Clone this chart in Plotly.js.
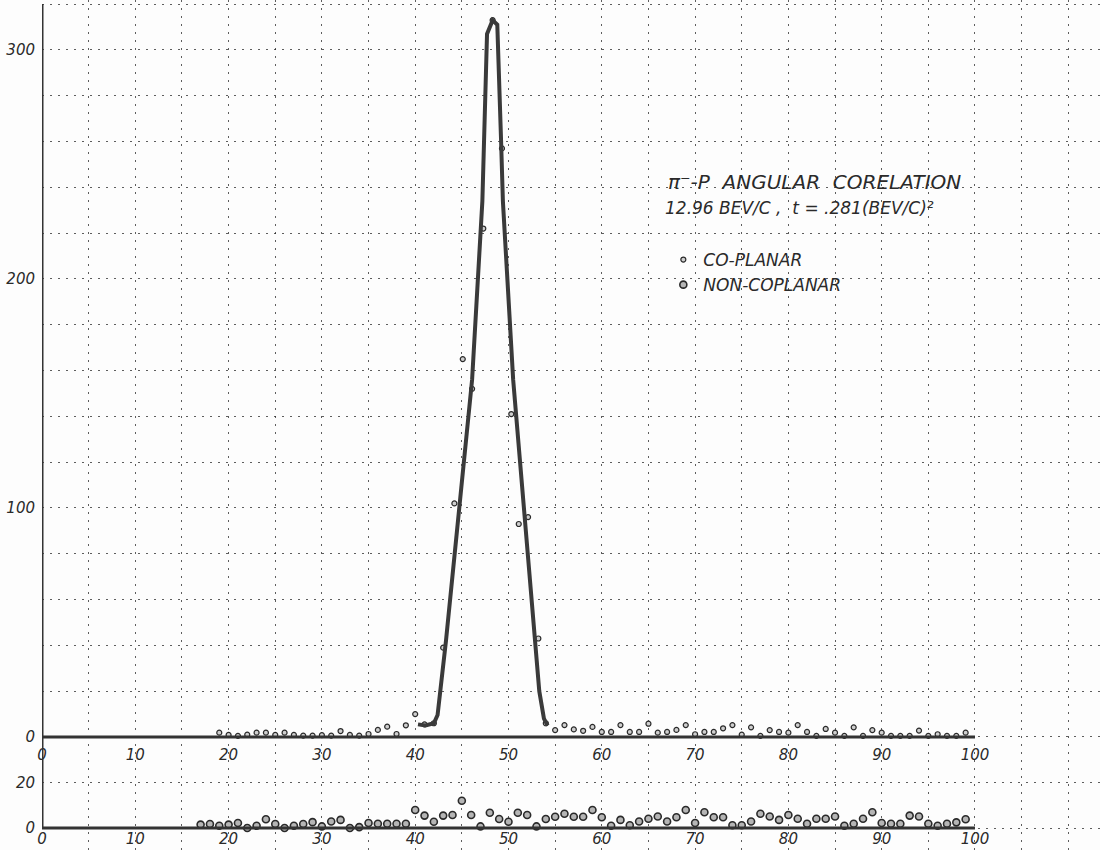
<!DOCTYPE html>
<html>
<head>
<meta charset="utf-8">
<script src="https://cdn.plot.ly/plotly-3.0.1.min.js"></script>
<style>
html,body{margin:0;padding:0;background:#fdfdfd;}
#chart{width:1100px;height:850px;}
</style>
</head>
<body>
<div id="chart"></div>
<script>
// ---- data ----
// upper panel: co-planar counts
const coplanarX = [19,20,21,22,23,24,25,26,27,28,29,30,31,32,33,34,35,36,37,38,39,40,41,42,43,44.2,45.1,46.1,47.3,48.3,49.3,50.3,51.1,52.1,53.2,54,55,56,57,58,59,60,61,62,63,64,65,66,67,68,69,70,71,72,73,74,75,76,77,78,79,80,81,82,83,84,85,86,87,88,89,90,91,92,93,94,95,96,97,98,99];
const coplanarY = [1.9,0.9,0.5,1.0,1.9,1.9,0.9,1.9,0.9,0.6,0.6,0.8,0.6,2.6,0.9,0.6,1.3,3.1,4.5,1.3,5.1,10,5.5,6,39,102,165,152,222,313,257,141,93,96,43,6,3,5.2,3.3,2.7,4.4,2.2,2.2,5.2,2.2,2.2,5.8,1.9,2.2,3.1,5.2,1.2,2.2,2.2,3.8,5.2,1.0,4.2,0.5,3.0,2.2,1.9,5.2,2.2,0.5,3.5,1.9,0.5,4.2,0.5,3.0,1.9,0.5,0.5,0.5,2.8,0.5,1.2,0.5,0.5,1.9];
// hand-drawn curve through the peak
const curveX = [40.3,41.1,42.0,42.4,43.3,46.1,47.2,47.7,48.3,48.8,49.2,49.4,50.5,52.8,53.3,53.8,54.2];
const curveY = [5.5,5.0,6.0,9.6,42,156,234,307,313,311,261,234,156,42,20,8,5];
// lower panel: non-coplanar counts
const noncoplanarX = [17,18,19,20,21,22,23,24,25,26,27,28,29,30,31,32,33,34,35,36,37,38,39,40,41,42,43,44,45,46,47,48,49,50,51,52,53,54,55,56,57,58,59,60,61,62,63,64,65,66,67,68,69,70,71,72,73,74,75,76,77,78,79,80,81,82,83,84,85,86,87,88,89,90,91,92,93,94,95,96,97,98,99];
const noncoplanarY = [1.5,1.8,1.0,1.5,2.2,0,1.0,3.9,1.8,0,1.0,1.8,2.6,0.7,2.9,3.6,0,0.4,2.2,1.9,1.9,1.9,1.9,8,5.5,2.8,5.5,5.8,12.1,5.8,0.7,6.8,4.0,2.8,6.8,5.8,0.7,4.0,5.0,6.3,5.0,5.0,8.0,4.8,1.0,3.6,1.2,2.9,4.1,5.1,2.9,4.8,8.0,2.2,7.0,4.8,4.8,1.2,1.2,2.9,6.3,5.1,3.6,5.8,4.1,1.9,4.1,4.1,5.1,1.0,1.9,4.1,7.0,2.2,1.9,1.9,5.5,5.1,1.9,1.0,1.9,2.5,3.9];
// tick labels
const xTickVals = [0,5,10,15,20,25,30,35,40,45,50,55,60,65,70,75,80,85,90,95,100,105,110];
const xTickText = ['0','','10','','20','','30','','40','','50','','60','','70','','80','','90','','100','',''];
const xLabelVals = [0,10,20,30,40,50,60,70,80,90,100];
const xLabelText = ['0','10','20','30','40','50','60','70','80','90','100'];
const yUpperVals = [-40,-20,0,20,40,60,80,100,120,140,160,180,200,220,240,260,280,300,320];
const yUpperText = ['','','0','','','','','100','','','','','200','','','','','300',''];
const yLowerVals = [0,20];
const yLowerText = ['0','20'];
const titleLine1 = 'π⁻-P  ANGULAR  CORELATION';
const titleLine2 = '12.96 BEV/C ,  t = .281(BEV/C)²';

const ink = '#2a2a2a';
const handFont = {family: 'DejaVu Sans', size: 15, color: ink, style: 'italic'};

const traces = [
  {
    x: curveX, y: curveY, xaxis: 'x2', yaxis: 'y',
    mode: 'lines', line: {color: '#3a3a3a', width: 4},
    showlegend: false, hoverinfo: 'skip'
  },
  {
    name: 'CO-PLANAR',
    x: coplanarX, y: coplanarY, xaxis: 'x', yaxis: 'y',
    mode: 'markers',
    marker: {symbol: 'circle', size: 5, color: '#cfcfcf', line: {color: ink, width: 1.2}}
  },
  {
    name: 'NON-COPLANAR',
    x: noncoplanarX, y: noncoplanarY, xaxis: 'x', yaxis: 'y2',
    mode: 'markers',
    marker: {symbol: 'circle', size: 7, color: '#b5b5b5', line: {color: ink, width: 1.6}}
  }
];

const gridCol = 'rgba(40,40,40,0.75)';
const layout = {
  width: 1100, height: 850,
  margin: {l: 42, r: 0, t: 0, b: 0},
  paper_bgcolor: '#fdfdfd', plot_bgcolor: '#fdfdfd',
  font: handFont,
  xaxis: {
    range: [0, 113.4], anchor: 'free', position: 22/850,
    tickmode: 'array', tickvals: xTickVals, ticktext: xTickText,
    showgrid: true, gridcolor: gridCol, griddash: '2px,6px', gridwidth: 1,
    zeroline: false, showline: false, ticks: '',
    tickfont: handFont, ticklabelstandoff: 0
  },
  xaxis2: {
    overlaying: 'x', matches: 'x', anchor: 'free', position: 113/850,
    tickmode: 'array', tickvals: xLabelVals, ticktext: xLabelText,
    showgrid: false, zeroline: false, showline: false, ticks: '',
    tickfont: handFont, ticklabelstandoff: 7
  },
  yaxis: {
    range: [-49.35, 321.8], anchor: 'x',
    tickmode: 'array', tickvals: yUpperVals, ticktext: yUpperText,
    showgrid: true, gridcolor: gridCol, griddash: '2px,6px', gridwidth: 1,
    zeroline: false, showline: false, ticks: '',
    tickfont: handFont, ticklabelstandoff: 6
  },
  yaxis2: {
    range: [-9.78, 368], overlaying: 'y', anchor: 'x', side: 'left',
    tickmode: 'array', tickvals: yLowerVals, ticktext: yLowerText,
    showgrid: false, zeroline: false, showline: false, ticks: '',
    tickfont: handFont, ticklabelstandoff: 6
  },
  shapes: [
    {type: 'line', xref: 'x', yref: 'y', x0: 0, x1: 100, y0: 0, y1: 0, line: {color: '#333', width: 3}},
    {type: 'line', xref: 'x', yref: 'y2', x0: 0, x1: 100, y0: 0, y1: 0, line: {color: '#333', width: 3}},
    {type: 'line', xref: 'x', yref: 'y', x0: 0, x1: 0, y0: -40, y1: 320, line: {color: '#333', width: 3}}
  ],
  showlegend: true,
  legend: {
    x: 646/1100, y: 1 - 242/850, xanchor: 'left', yanchor: 'top',
    bgcolor: 'rgba(0,0,0,0)', borderwidth: 0,
    font: {family: 'DejaVu Sans', size: 17, color: ink, style: 'italic'},
    tracegroupgap: 0
  },
  annotations: [
    {xref: 'paper', yref: 'paper', x: 649/1100, y: 1 - 182/850, xanchor: 'left', yanchor: 'middle',
     text: titleLine1, showarrow: false,
     font: {family: 'DejaVu Sans', size: 20, color: ink, style: 'italic'}},
    {xref: 'paper', yref: 'paper', x: 646/1100, y: 1 - 208/850, xanchor: 'left', yanchor: 'middle',
     text: titleLine2, showarrow: false,
     font: {family: 'DejaVu Sans', size: 17, color: ink, style: 'italic'}}
  ]
};

Plotly.newPlot('chart', traces, layout, {displayModeBar: false, staticPlot: true});
</script>
</body>
</html>
